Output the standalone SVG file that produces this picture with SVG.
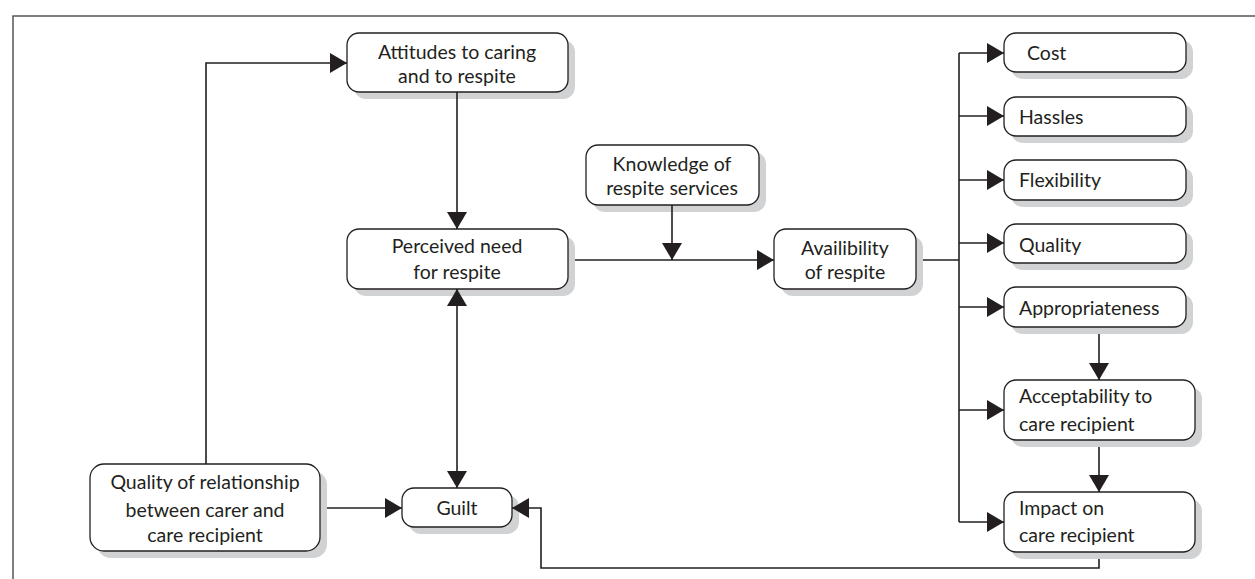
<svg xmlns="http://www.w3.org/2000/svg" width="1255" height="579" viewBox="0 0 1255 579">
<style>
.box{fill:#fff;stroke:#231f20;stroke-width:1.3}
.sh{fill:#d1d2d4}
.t{font-family:Lato,"Open Sans","Liberation Sans",sans-serif;font-size:19.5px;fill:#231f20}
.c{text-anchor:middle}
.ln{fill:none;stroke:#231f20;stroke-width:1.6}
</style>
<defs>
<marker id="ah" viewBox="0 0 17 20" refX="17" refY="10" markerWidth="17" markerHeight="20" markerUnits="userSpaceOnUse" orient="auto-start-reverse">
<path d="M0,0 L17,10 L0,20 Z" fill="#231f20"/>
</marker>
</defs>
<rect width="1255" height="579" fill="#fff"/>
<path d="M13,579 V16 H1255" fill="none" stroke="#555" stroke-width="1.5"/>
<g id="attitudes">
<rect class="sh" x="354" y="40" width="221" height="59" rx="12"/>
<rect class="box" x="347" y="33" width="221" height="59" rx="12"/>
<text class="t c" x="457" y="59">Attitudes to caring</text>
<text class="t c" x="457" y="83">and to respite</text>
</g>
<g id="perceived">
<rect class="sh" x="354" y="236" width="221" height="60" rx="12"/>
<rect class="box" x="347" y="229" width="221" height="60" rx="12"/>
<text class="t c" x="457" y="253">Perceived need</text>
<text class="t c" x="457" y="279">for respite</text>
</g>
<g id="knowledge">
<rect class="sh" x="593" y="152" width="173" height="60" rx="12"/>
<rect class="box" x="586" y="145" width="173" height="60" rx="12"/>
<text class="t c" x="672" y="171">Knowledge of</text>
<text class="t c" x="672" y="195">respite services</text>
</g>
<g id="availability">
<rect class="sh" x="781" y="236" width="142" height="60" rx="12"/>
<rect class="box" x="774" y="229" width="142" height="60" rx="12"/>
<text class="t c" x="845" y="255">Availibility</text>
<text class="t c" x="845" y="279">of respite</text>
</g>
<g id="cost">
<rect class="sh" x="1011" y="40" width="182" height="39" rx="12"/>
<rect class="box" x="1004" y="33" width="182" height="39" rx="12"/>
<text class="t" x="1027" y="60">Cost</text>
</g>
<g id="hassles">
<rect class="sh" x="1011" y="104" width="182" height="39" rx="12"/>
<rect class="box" x="1004" y="97" width="182" height="39" rx="12"/>
<text class="t" x="1019" y="124">Hassles</text>
</g>
<g id="flexibility">
<rect class="sh" x="1011" y="167" width="182" height="40" rx="12"/>
<rect class="box" x="1004" y="160" width="182" height="40" rx="12"/>
<text class="t" x="1019" y="187">Flexibility</text>
</g>
<g id="quality">
<rect class="sh" x="1011" y="231" width="182" height="39" rx="12"/>
<rect class="box" x="1004" y="224" width="182" height="39" rx="12"/>
<text class="t" x="1019" y="252">Quality</text>
</g>
<g id="appropriateness">
<rect class="sh" x="1011" y="294" width="182" height="40" rx="12"/>
<rect class="box" x="1004" y="287" width="182" height="40" rx="12"/>
<text class="t" x="1019" y="315">Appropriateness</text>
</g>
<g id="acceptability">
<rect class="sh" x="1011" y="387" width="191" height="60" rx="12"/>
<rect class="box" x="1004" y="380" width="191" height="60" rx="12"/>
<text class="t" x="1019" y="403">Acceptability to</text>
<text class="t" x="1019" y="431">care recipient</text>
</g>
<g id="impact">
<rect class="sh" x="1011" y="499" width="191" height="60" rx="12"/>
<rect class="box" x="1004" y="492" width="191" height="60" rx="12"/>
<text class="t" x="1019" y="515">Impact on</text>
<text class="t" x="1019" y="542">care recipient</text>
</g>
<g id="relationship">
<rect class="sh" x="97" y="471" width="230" height="87" rx="14"/>
<rect class="box" x="90" y="464" width="230" height="87" rx="14"/>
<text class="t c" x="205" y="489">Quality of relationship</text>
<text class="t c" x="205" y="517">between carer and</text>
<text class="t c" x="205" y="542">care recipient</text>
</g>
<g id="guilt">
<rect class="sh" x="409" y="495" width="110" height="39" rx="12"/>
<rect class="box" x="402" y="488" width="110" height="39" rx="12"/>
<text class="t c" x="457" y="515">Guilt</text>
</g>
<g id="connectors">
<path class="ln" d="M457,92 V229" marker-end="url(#ah)"/>
<path class="ln" d="M672,205 V260" marker-end="url(#ah)"/>
<path class="ln" d="M575,260 H774" marker-end="url(#ah)"/>
<path class="ln" d="M923,260 H959"/>
<path class="ln" d="M959,53 V522"/>
<path class="ln" d="M959,53 H1004" marker-end="url(#ah)"/>
<path class="ln" d="M959,116 H1004" marker-end="url(#ah)"/>
<path class="ln" d="M959,180 H1004" marker-end="url(#ah)"/>
<path class="ln" d="M959,243 H1004" marker-end="url(#ah)"/>
<path class="ln" d="M959,307 H1004" marker-end="url(#ah)"/>
<path class="ln" d="M959,410 H1004" marker-end="url(#ah)"/>
<path class="ln" d="M959,522 H1004" marker-end="url(#ah)"/>
<path class="ln" d="M1099,334 V380" marker-end="url(#ah)"/>
<path class="ln" d="M1099,447 V492" marker-end="url(#ah)"/>
<path class="ln" d="M1099,559 V568 H541 V508 H512" marker-end="url(#ah)"/>
<path class="ln" d="M457,289 V488" marker-start="url(#ah)" marker-end="url(#ah)"/>
<path class="ln" d="M327,508 H402" marker-end="url(#ah)"/>
<path class="ln" d="M206,464 V63 H347" marker-end="url(#ah)"/>
</g>
</svg>
